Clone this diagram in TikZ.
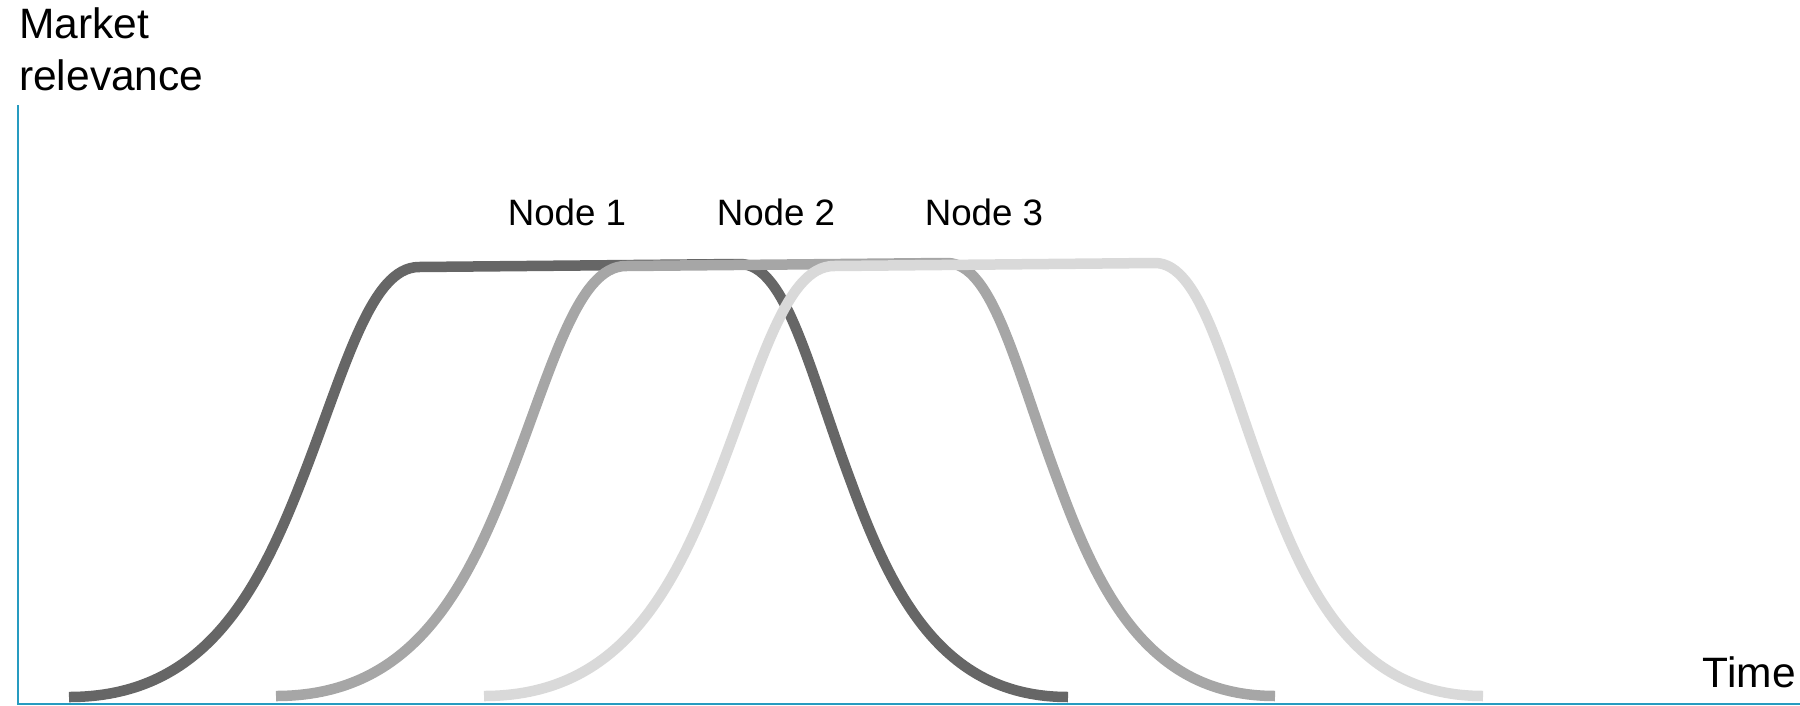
\documentclass[tikz,border=0pt]{standalone}
\usepackage{fontspec}
\setmainfont{Liberation Sans}
\definecolor{axisblue}{RGB}{38,155,192}
\definecolor{cdark}{RGB}{102,102,102}
\definecolor{cmid}{RGB}{166,166,166}
\definecolor{clight}{RGB}{217,217,217}
\tikzset{
  lifecurve/.style={line width=10.5pt, line cap=butt, line join=round},
  axisline/.style={draw=axisblue, line width=2pt},
  bigtext/.style={inner sep=0pt, font=\fontsize{42.5}{50}\selectfont},
  nodetext/.style={inner sep=0pt, font=\fontsize{36.7}{44}\selectfont},
}
\newcommand\lifepath[3]{% xshift, yshift, colour
  \begin{scope}[xshift=#1pt, yshift=-#2pt]
    \draw[lifecurve, draw=#3]
      (69,697) .. controls (200,697) and (255,600) .. (301,482)
      .. controls (345,370) and (370,267) .. (419,267)
      -- (740,264)
      .. controls (786,264) and (809,370) .. (851,482)
      .. controls (894,600) and (945,697) .. (1068,697);
  \end{scope}}
\begin{document}
\begin{tikzpicture}[x=1pt, y=-1pt]
  \useasboundingbox (0,0) rectangle (1800,705);
  % axes
  \coordinate (origin) at (18,704);
  \coordinate (ytop) at (18,105);
  \coordinate (xend) at (1800,704);
  \draw[axisline] (ytop) -- (origin) -- (xend);
  % curves
  \lifepath{0}{0}{cdark}
  \lifepath{207}{-1}{cmid}
  \lifepath{415}{-1}{clight}
  % labels
  \node[bigtext, anchor=base west] (m1) at (19,38) {Market};
  \node[bigtext, anchor=base west] (m2) at (19,90) {relevance};
  \node[bigtext, anchor=base east] (time) at (1796,687) {Time};
  \node[nodetext, anchor=base] (n1) at (567,225) {Node 1};
  \node[nodetext, anchor=base] (n2) at (776,225) {Node 2};
  \node[nodetext, anchor=base] (n3) at (984,225) {Node 3};
\end{tikzpicture}
\end{document}
